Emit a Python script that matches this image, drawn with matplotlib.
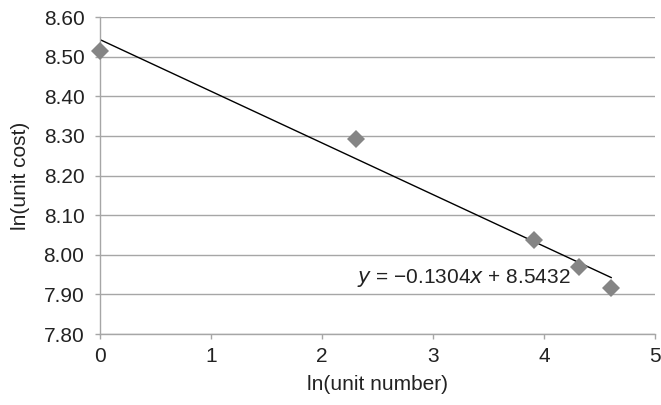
import numpy as np
import matplotlib
matplotlib.use("Agg")
import matplotlib.pyplot as plt

plt.rcParams['font.family'] = ['Liberation Sans', 'DejaVu Sans']

# ln of unit number and ln of unit cost
ln_unit_number = [0.0, 2.303, 3.912, 4.317, 4.605]
ln_unit_cost = [8.515, 8.293, 8.037, 7.970, 7.917]

# Fitted trendline coefficients
slope = -0.1304
intercept = 8.5432

x_ticks = [0, 1, 2, 3, 4, 5]
y_ticks = [7.80, 7.90, 8.00, 8.10, 8.20, 8.30, 8.40, 8.50, 8.60]

fig = plt.figure(figsize=(6.61, 4.05), dpi=100)
ax = fig.add_axes([0.151, 0.175, 0.840, 0.783])

grid_c = '#a6a6a6'
text_c = '#222222'
ax.set_xlim(0, 5)
ax.set_ylim(7.80, 8.60)
ax.set_xticks(x_ticks)
ax.set_yticks(y_ticks)
ax.set_yticklabels([f"{v:.2f}" for v in y_ticks])
ax.yaxis.grid(True, color=grid_c, lw=1)
ax.set_axisbelow(True)
for s in ['top', 'right']:
    ax.spines[s].set_visible(False)
for s in ['left', 'bottom']:
    ax.spines[s].set_color(grid_c)
    ax.spines[s].set_linewidth(1)
ax.tick_params(axis='both', colors=grid_c, length=3.6, width=1, labelsize=15,
               labelcolor=text_c)
ax.tick_params(axis='x', pad=5.5)
ax.tick_params(axis='y', pad=7.5)

xs = np.array([ln_unit_number[0], ln_unit_number[-1]])
ax.plot(xs, slope * xs + intercept, color='black', lw=1, zorder=2)
ax.plot(ln_unit_number, ln_unit_cost, linestyle='none', marker='D',
        markersize=9, color='#858585', markeredgewidth=0, zorder=3,
        clip_on=False)

ax.text(2.315, 7.941, "$y$ = \u22120.1304$x$ + 8.5432",
        fontsize=15, color=text_c, va='center', ha='left')

ax.set_xlabel("ln(unit number)", fontsize=15, color=text_c, labelpad=6.5)
ax.set_ylabel("ln(unit cost)", fontsize=15, color=text_c, labelpad=9.5)

fig.savefig("out.png", dpi=100)
